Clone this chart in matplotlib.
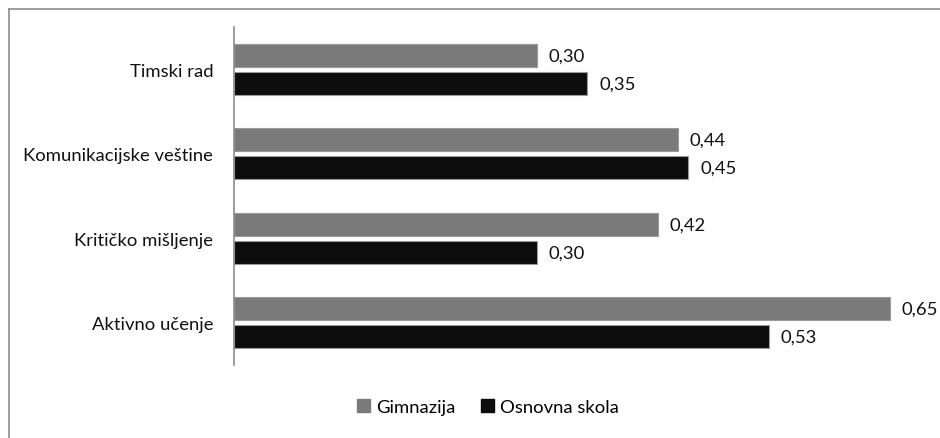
import matplotlib
matplotlib.use("Agg")
import matplotlib.pyplot as plt
from matplotlib.lines import Line2D
import numpy as np

plt.rcParams['font.family'] = ['Lato', 'DejaVu Sans']

categories = ["Timski rad", "Komunikacijske veštine", "Kritičko mišljenje", "Aktivno učenje"]
gimnazija = [0.30, 0.44, 0.42, 0.65]
osnovna = [0.35, 0.45, 0.30, 0.53]
series_names = ["Gimnazija", "Osnovna skola"]
colors = ["#7a7a7a", "#0c0c0c"]

W, H = 940, 439
fig = plt.figure(figsize=(W / 100, H / 100), dpi=100)

# plot area in pixel coordinates
left, right, top, bottom = 234, 920, 28, 366
ax = fig.add_axes([left / W, 1 - bottom / H, (right - left) / W, (bottom - top) / H])

fs = 13.3
y = np.arange(len(categories))
h = 0.273
off = 0.165
for vals, sign, col, name in [(gimnazija, -1, colors[0], series_names[0]),
                              (osnovna, 1, colors[1], series_names[1])]:
    ax.barh(y + sign * off, vals, height=h, color=col, edgecolor="#9a9a9a",
            linewidth=0.8, label=name)
    for yi, v in zip(y, vals):
        ax.text(v + 0.012, yi + sign * off, f"{v:.2f}".replace(".", ","),
                va="center", ha="left", fontsize=fs, color="#111111")

ax.set_ylim(len(categories) - 0.5, -0.5)
ax.set_xlim(0, 0.68)
ax.set_yticks(y)
ax.set_yticklabels(categories, fontsize=fs, color="#111111")
ax.tick_params(axis="y", length=0, pad=15)
ax.set_xticks([])
for s in ["top", "right", "bottom"]:
    ax.spines[s].set_visible(False)
ax.spines["left"].set_color("#8c8c8c")
ax.spines["left"].set_linewidth(1.2)

leg = fig.legend(handles=[plt.Rectangle((0, 0), 1, 1, color=c) for c in colors],
                 labels=series_names, loc="center", bbox_to_anchor=(488 / W, 1 - 408 / H),
                 ncol=2, frameon=False, fontsize=fs, handlelength=0.7, handleheight=0.7,
                 handletextpad=0.3, columnspacing=1.4)

# outer frame (top and left edges)
fig.add_artist(Line2D([9 / W, 1], [1 - 10 / H, 1 - 10 / H], color="#8c8c8c", lw=1.2,
                      transform=fig.transFigure))
fig.add_artist(Line2D([9 / W, 9 / W], [0, 1 - 10 / H], color="#8c8c8c", lw=1.2,
                      transform=fig.transFigure))

fig.savefig("out.png", dpi=100, facecolor="white")
